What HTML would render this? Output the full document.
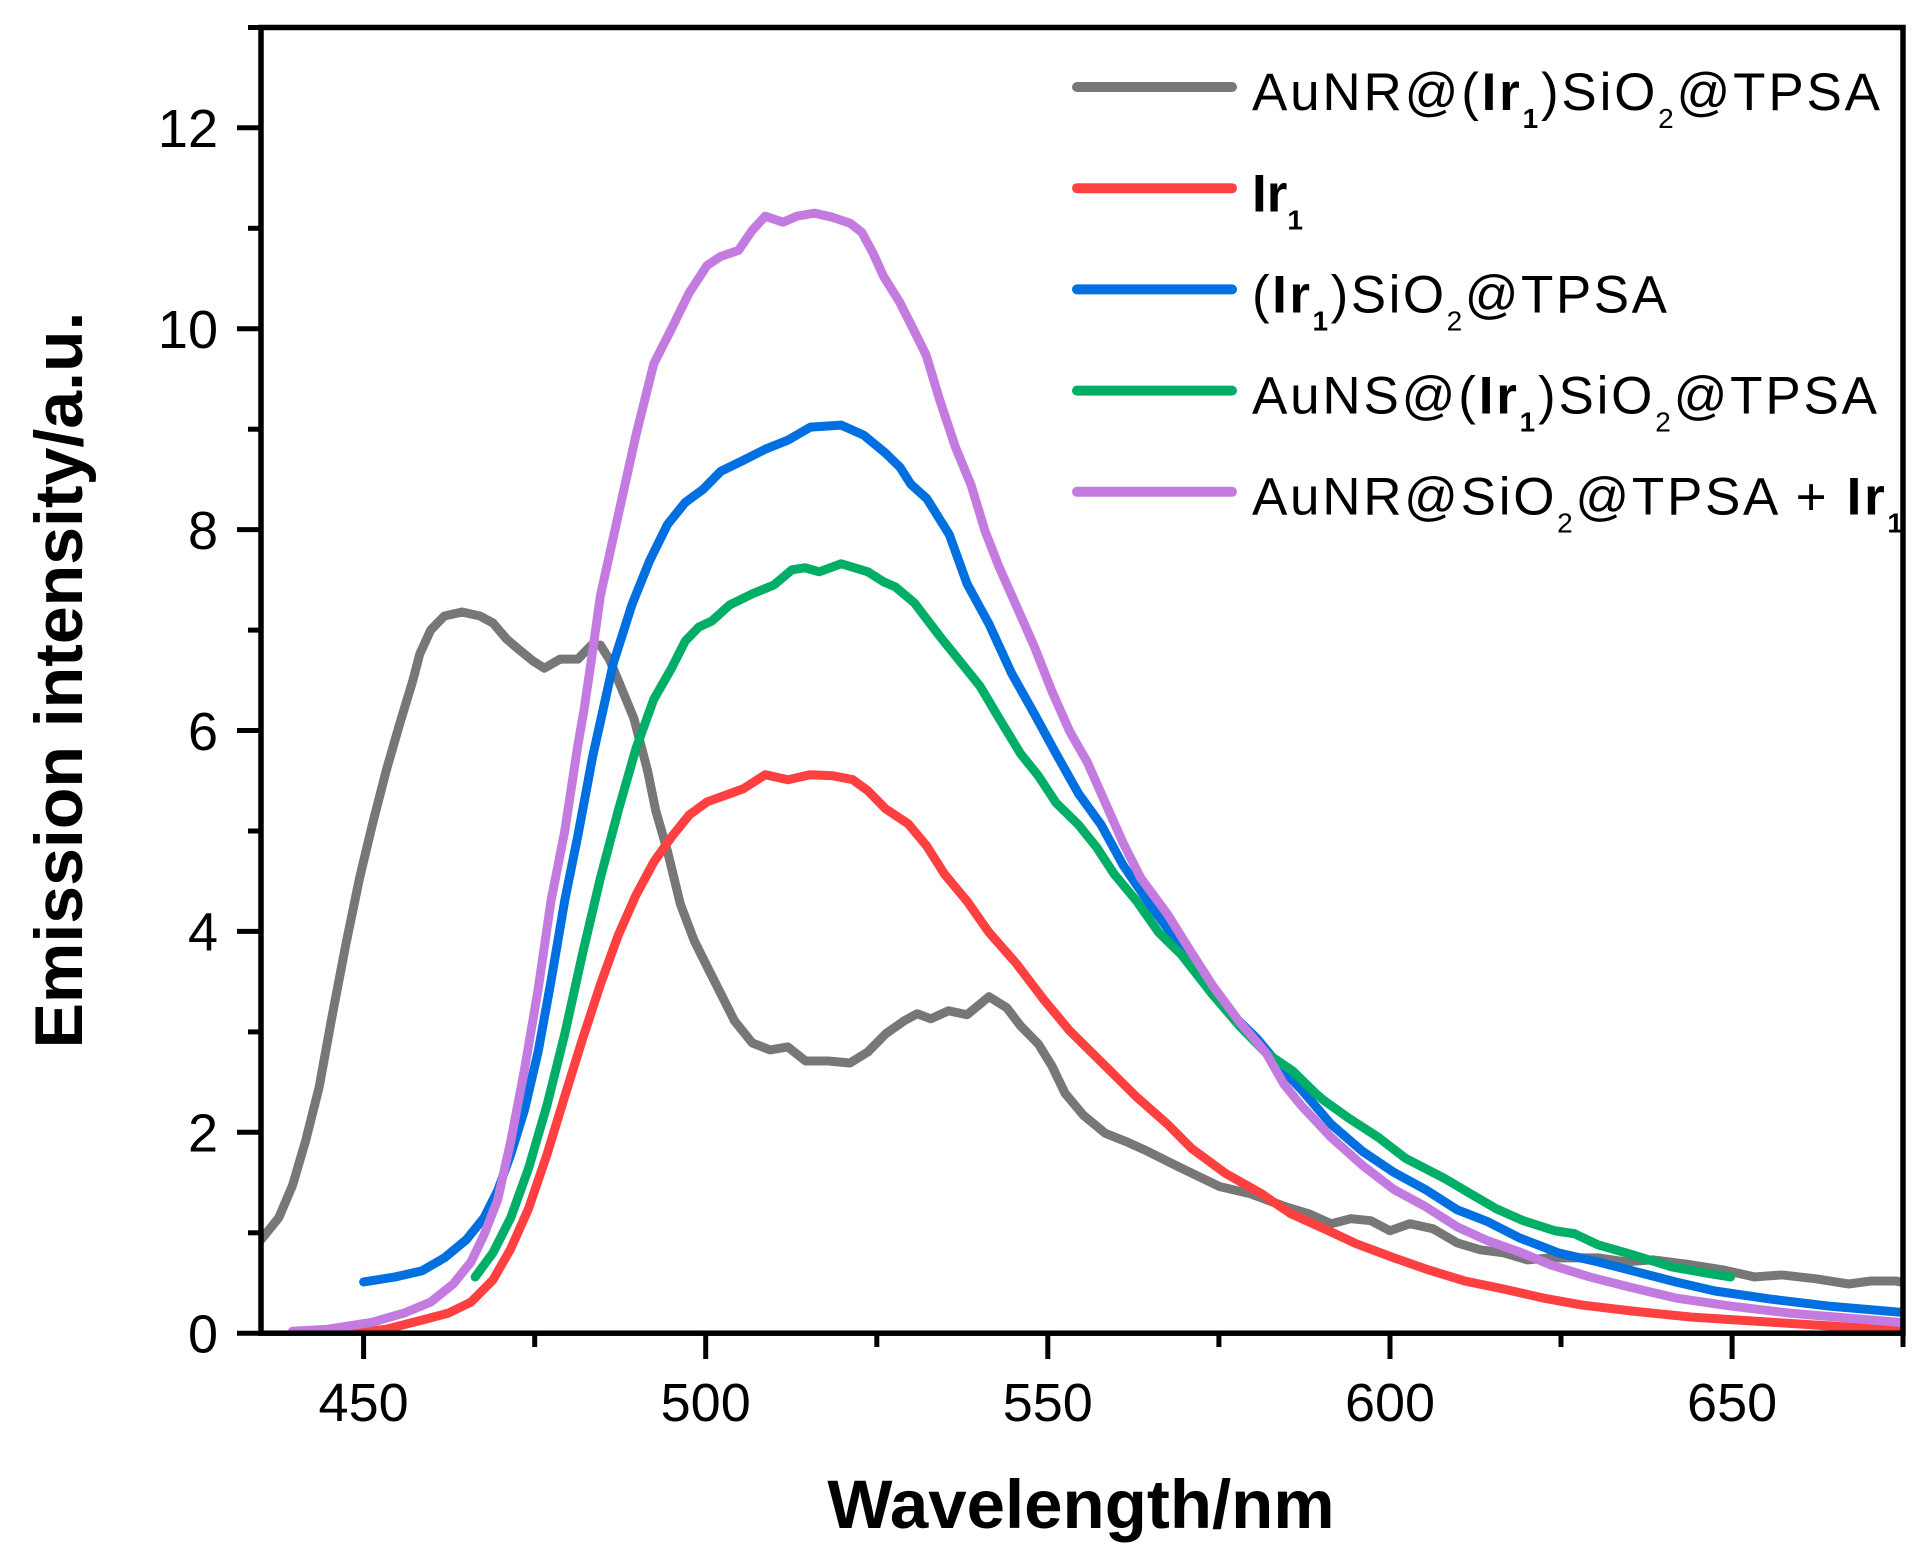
<!DOCTYPE html>
<html>
<head>
<meta charset="utf-8">
<style>
  html, body { margin: 0; padding: 0; background: #ffffff; }
  svg { display: block; }
  text { font-family: "Liberation Sans", Arial, sans-serif; fill: #000; }
</style>
</head>
<body>
<svg width="1931" height="1560" viewBox="0 0 1931 1560" xmlns="http://www.w3.org/2000/svg">
  <rect x="0" y="0" width="1931" height="1560" fill="#ffffff"/>
  <defs>
    <clipPath id="plotclip">
      <rect x="261" y="27" width="1642" height="1306"/>
    </clipPath>
  </defs>

  <!-- Curves -->
  <g clip-path="url(#plotclip)">
    <g transform="translate(261,1333.2) scale(6.842,-100.45) translate(-435,0)" fill="none" stroke-linejoin="round" stroke-linecap="round">
      <!-- Gray: AuNR@(Ir1)SiO2@TPSA -->
      <path vector-effect="non-scaling-stroke" stroke="#777777" stroke-width="9"
        d="M435,0.93 L437.6,1.15 L439.6,1.47 L441.5,1.91 L443.5,2.45 L445.4,3.16 L447.4,3.87 L449.4,4.53 L451.3,5.07 L453.3,5.6 L455.2,6.05 L457.2,6.5 L458.2,6.76 L459.8,7.0 L461.8,7.14 L464.4,7.18 L467,7.14 L468.9,7.07 L470.9,6.91 L472.8,6.8 L474.8,6.69 L476.4,6.62 L478.7,6.71 L481.3,6.71 L483.3,6.85 L484.6,6.85 L485.9,6.71 L487.2,6.5 L489.5,6.12 L491.5,5.6 L492.7,5.2 L494.4,4.8 L496.3,4.27 L498.3,3.91 L500.2,3.65 L502.2,3.38 L504.2,3.11 L506.8,2.89 L509.4,2.82 L512,2.85 L514.6,2.71 L517.9,2.71 L521.1,2.69 L523.7,2.8 L526.3,2.98 L529,3.11 L530.9,3.18 L532.9,3.13 L535.5,3.21 L538.2,3.17 L541.4,3.35 L544,3.24 L546,3.06 L548.6,2.88 L550.6,2.66 L552.5,2.39 L555.2,2.17 L558.4,1.99 L561.7,1.9 L564.3,1.82 L569,1.66 L575.1,1.46 L579.5,1.39 L584.7,1.26 L588.1,1.19 L591.4,1.09 L594.3,1.14 L597.2,1.12 L600,1.02 L602.9,1.09 L606.3,1.04 L609.8,0.9 L613.2,0.83 L616.6,0.8 L620.1,0.73 L623.5,0.75 L627,0.75 L630.4,0.75 L634.4,0.71 L638.4,0.73 L644.1,0.68 L648.7,0.63 L653.3,0.56 L657.3,0.58 L662.4,0.54 L667,0.49 L670.4,0.52 L673.9,0.52 L676,0.49"/>
      <!-- Red: Ir1 -->
      <path vector-effect="non-scaling-stroke" stroke="#ff4040" stroke-width="9"
        d="M448,0.0 L453.3,0.04 L458.5,0.13 L462.4,0.2 L465.7,0.31 L468.9,0.53 L471.5,0.84 L474.1,1.24 L476.8,1.78 L479.4,2.36 L482,2.93 L484.6,3.47 L487.2,3.96 L489.8,4.36 L492.4,4.69 L495,4.94 L497.6,5.16 L500.2,5.29 L503.5,5.37 L505.5,5.42 L508.7,5.56 L512,5.51 L515.3,5.56 L518.5,5.55 L521.5,5.51 L523.7,5.4 L526.3,5.22 L529.6,5.07 L532.3,4.85 L534.9,4.57 L538.2,4.3 L541.4,3.99 L545.4,3.68 L549.3,3.33 L553.2,3.01 L557.8,2.7 L563,2.35 L567.5,2.08 L571,1.84 L576,1.59 L581.2,1.39 L585.5,1.19 L590.7,1.03 L595.1,0.89 L600.6,0.75 L605.2,0.64 L610.9,0.52 L616.6,0.44 L622.4,0.35 L628.1,0.28 L635.5,0.22 L644.1,0.16 L655.6,0.11 L667,0.06 L676,0.04"/>
      <!-- Blue: (Ir1)SiO2@TPSA -->
      <path vector-effect="non-scaling-stroke" stroke="#0070e0" stroke-width="9"
        d="M450,0.51 L454.6,0.56 L458.5,0.62 L461.8,0.75 L465,0.93 L467.6,1.15 L469.6,1.42 L471.5,1.78 L473.5,2.22 L475.5,2.8 L477.4,3.51 L479.4,4.31 L481.3,4.95 L483.5,5.75 L485.2,6.27 L486.5,6.67 L489.2,7.25 L491.8,7.69 L494.4,8.05 L497,8.27 L499.6,8.4 L502.2,8.58 L505.5,8.69 L508.7,8.8 L512,8.89 L515.3,9.02 L519.8,9.04 L523.1,8.94 L526.3,8.76 L528.4,8.62 L530,8.45 L532.3,8.31 L535.6,7.95 L538.2,7.46 L541.4,7.06 L544.7,6.57 L548,6.17 L551.2,5.77 L554.5,5.37 L557.8,5.06 L561,4.66 L565,4.26 L568.9,3.9 L572.8,3.55 L576.7,3.19 L580.6,2.93 L584.5,2.61 L587,2.43 L591.4,2.08 L596,1.81 L600.6,1.6 L605.2,1.43 L609.8,1.23 L614.3,1.11 L618.9,0.95 L624.6,0.8 L630.4,0.71 L636.1,0.61 L641.8,0.51 L647.5,0.42 L655.6,0.34 L664.1,0.27 L676,0.2"/>
      <!-- Green: AuNS@(Ir1)SiO2@TPSA -->
      <path vector-effect="non-scaling-stroke" stroke="#00ae68" stroke-width="9"
        d="M466.3,0.56 L468.9,0.8 L471.5,1.15 L474.1,1.64 L476.8,2.27 L479.4,2.98 L482,3.78 L484.6,4.53 L487.2,5.2 L489.8,5.82 L492.4,6.31 L495,6.62 L497,6.89 L499,7.03 L500.9,7.09 L503.5,7.25 L506.8,7.36 L510,7.45 L512.6,7.6 L514.5,7.62 L516.6,7.58 L519.8,7.66 L523.7,7.58 L526,7.48 L527.7,7.43 L530.5,7.27 L534.3,6.93 L537.5,6.66 L540.1,6.44 L542.8,6.13 L546,5.77 L548.6,5.55 L551.2,5.28 L554.5,5.06 L557.1,4.84 L559.7,4.57 L563,4.3 L566.2,3.99 L569.5,3.77 L574.1,3.37 L578,3.06 L581.9,2.79 L585.8,2.61 L589.1,2.39 L590.3,2.32 L594,2.14 L598.3,1.95 L602.3,1.74 L608,1.54 L611.5,1.4 L615.5,1.24 L619.5,1.12 L624.1,1.02 L627,0.99 L630.4,0.88 L635.5,0.78 L641.2,0.66 L647,0.59 L649.8,0.56"/>
      <!-- Purple: AuNR@SiO2@TPSA + Ir1 -->
      <path vector-effect="non-scaling-stroke" stroke="#c47be0" stroke-width="9"
        d="M439.6,0.02 L444.8,0.04 L451.3,0.11 L455.9,0.2 L459.8,0.31 L463.1,0.49 L465.7,0.71 L467.6,0.98 L469.6,1.33 L471.5,1.91 L473.5,2.62 L475.5,3.42 L477.4,4.31 L479.4,5.0 L481.3,5.85 L482.2,6.2 L483.3,6.71 L484.6,7.34 L487.2,8.14 L489.8,8.94 L492.4,9.65 L495,10.0 L497.6,10.36 L500.2,10.63 L502.2,10.72 L504.8,10.78 L506.8,10.98 L508.7,11.12 L511.3,11.06 L513.3,11.12 L515.9,11.15 L518.5,11.11 L521.1,11.05 L522.8,10.96 L524.4,10.76 L526,10.52 L528.3,10.27 L530.3,10.0 L532.2,9.74 L534.2,9.29 L536.5,8.82 L538.8,8.44 L540.8,7.99 L542.8,7.64 L545.4,7.24 L548,6.84 L550.6,6.39 L553.2,5.99 L555.8,5.68 L558.4,5.28 L561,4.88 L563.6,4.53 L567.5,4.17 L570.8,3.81 L574.1,3.46 L578,3.1 L581.9,2.79 L584.5,2.48 L587,2.27 L591.4,1.95 L596,1.67 L600.6,1.43 L605.2,1.26 L609.8,1.06 L614.3,0.92 L618.9,0.81 L623.5,0.68 L629.2,0.56 L635,0.46 L641.8,0.35 L649.8,0.27 L658.4,0.2 L667,0.15 L676,0.1"/>
    </g>
  </g>

  <!-- Axes frame -->
  <rect x="261" y="27.5" width="1642" height="1305.7" fill="none" stroke="#000" stroke-width="5.5"/>

  <!-- Y ticks -->
  <g stroke="#000" stroke-width="5">
    <line x1="237" y1="1333.2" x2="261" y2="1333.2"/>
    <line x1="237" y1="1132.3" x2="261" y2="1132.3"/>
    <line x1="237" y1="931.4" x2="261" y2="931.4"/>
    <line x1="237" y1="730.5" x2="261" y2="730.5"/>
    <line x1="237" y1="529.6" x2="261" y2="529.6"/>
    <line x1="237" y1="328.7" x2="261" y2="328.7"/>
    <line x1="237" y1="127.8" x2="261" y2="127.8"/>
    <line x1="248" y1="1232.8" x2="261" y2="1232.8"/>
    <line x1="248" y1="1031.9" x2="261" y2="1031.9"/>
    <line x1="248" y1="831.0" x2="261" y2="831.0"/>
    <line x1="248" y1="630.1" x2="261" y2="630.1"/>
    <line x1="248" y1="429.2" x2="261" y2="429.2"/>
    <line x1="248" y1="228.3" x2="261" y2="228.3"/>
    <line x1="248" y1="27.5" x2="261" y2="27.5"/>
  </g>

  <!-- X ticks -->
  <g stroke="#000" stroke-width="5">
    <line x1="363.6" y1="1333" x2="363.6" y2="1359"/>
    <line x1="705.7" y1="1333" x2="705.7" y2="1359"/>
    <line x1="1047.8" y1="1333" x2="1047.8" y2="1359"/>
    <line x1="1390" y1="1333" x2="1390" y2="1359"/>
    <line x1="1732.1" y1="1333" x2="1732.1" y2="1359"/>
    <line x1="534.7" y1="1333" x2="534.7" y2="1347"/>
    <line x1="876.8" y1="1333" x2="876.8" y2="1347"/>
    <line x1="1218.9" y1="1333" x2="1218.9" y2="1347"/>
    <line x1="1561" y1="1333" x2="1561" y2="1347"/>
    <line x1="1903" y1="1333" x2="1903" y2="1347"/>
  </g>

  <!-- Y tick labels -->
  <g font-size="54" text-anchor="end">
    <text x="218" y="1352.5">0</text>
    <text x="218" y="1151.6">2</text>
    <text x="218" y="950.7">4</text>
    <text x="218" y="749.8">6</text>
    <text x="218" y="548.9">8</text>
    <text x="218" y="348">10</text>
    <text x="218" y="147.1">12</text>
  </g>

  <!-- X tick labels -->
  <g font-size="54" text-anchor="middle">
    <text x="363.6" y="1421">450</text>
    <text x="705.7" y="1421">500</text>
    <text x="1047.8" y="1421">550</text>
    <text x="1390" y="1421">600</text>
    <text x="1732.1" y="1421">650</text>
  </g>

  <!-- Axis titles -->
  <text x="1081" y="1528" font-size="69" font-weight="bold" text-anchor="middle">Wavelength/nm</text>
  <text transform="translate(82,680) rotate(-90)" font-size="68" font-weight="bold" text-anchor="middle">Emission intensity/a.u.</text>

  <!-- Legend -->
  <g stroke-width="10" stroke-linecap="round">
    <line x1="1077" y1="87" x2="1232" y2="87" stroke="#777777"/>
    <line x1="1077" y1="188.2" x2="1232" y2="188.2" stroke="#ff4040"/>
    <line x1="1077" y1="289.4" x2="1232" y2="289.4" stroke="#0070e0"/>
    <line x1="1077" y1="390.6" x2="1232" y2="390.6" stroke="#00ae68"/>
    <line x1="1077" y1="491.8" x2="1232" y2="491.8" stroke="#c47be0"/>
  </g>
  <g font-size="53">
    <text x="1252" y="110" textLength="628" lengthAdjust="spacing">AuNR@(<tspan font-weight="bold">Ir</tspan><tspan font-size="28" font-weight="bold" dy="18">1</tspan><tspan dy="-18">)SiO</tspan><tspan font-size="28" dy="18">2</tspan><tspan dy="-18">@TPSA</tspan></text>
    <text x="1252" y="211.5"><tspan font-weight="bold">Ir</tspan><tspan font-size="28" font-weight="bold" dy="18">1</tspan></text>
    <text x="1252" y="312.5" textLength="415" lengthAdjust="spacing">(<tspan font-weight="bold">Ir</tspan><tspan font-size="28" font-weight="bold" dy="18">1</tspan><tspan dy="-18">)SiO</tspan><tspan font-size="28" dy="18">2</tspan><tspan dy="-18">@TPSA</tspan></text>
    <text x="1252" y="413.5" textLength="625" lengthAdjust="spacing">AuNS@(<tspan font-weight="bold">Ir</tspan><tspan font-size="28" font-weight="bold" dy="18">1</tspan><tspan dy="-18">)SiO</tspan><tspan font-size="28" dy="18">2</tspan><tspan dy="-18">@TPSA</tspan></text>
    <text x="1252" y="514.5" textLength="651" lengthAdjust="spacing">AuNR@SiO<tspan font-size="28" dy="18">2</tspan><tspan dy="-18">@TPSA + </tspan><tspan font-weight="bold">Ir</tspan><tspan font-size="28" font-weight="bold" dy="18">1</tspan></text>
  </g>
</svg>
</body>
</html>
